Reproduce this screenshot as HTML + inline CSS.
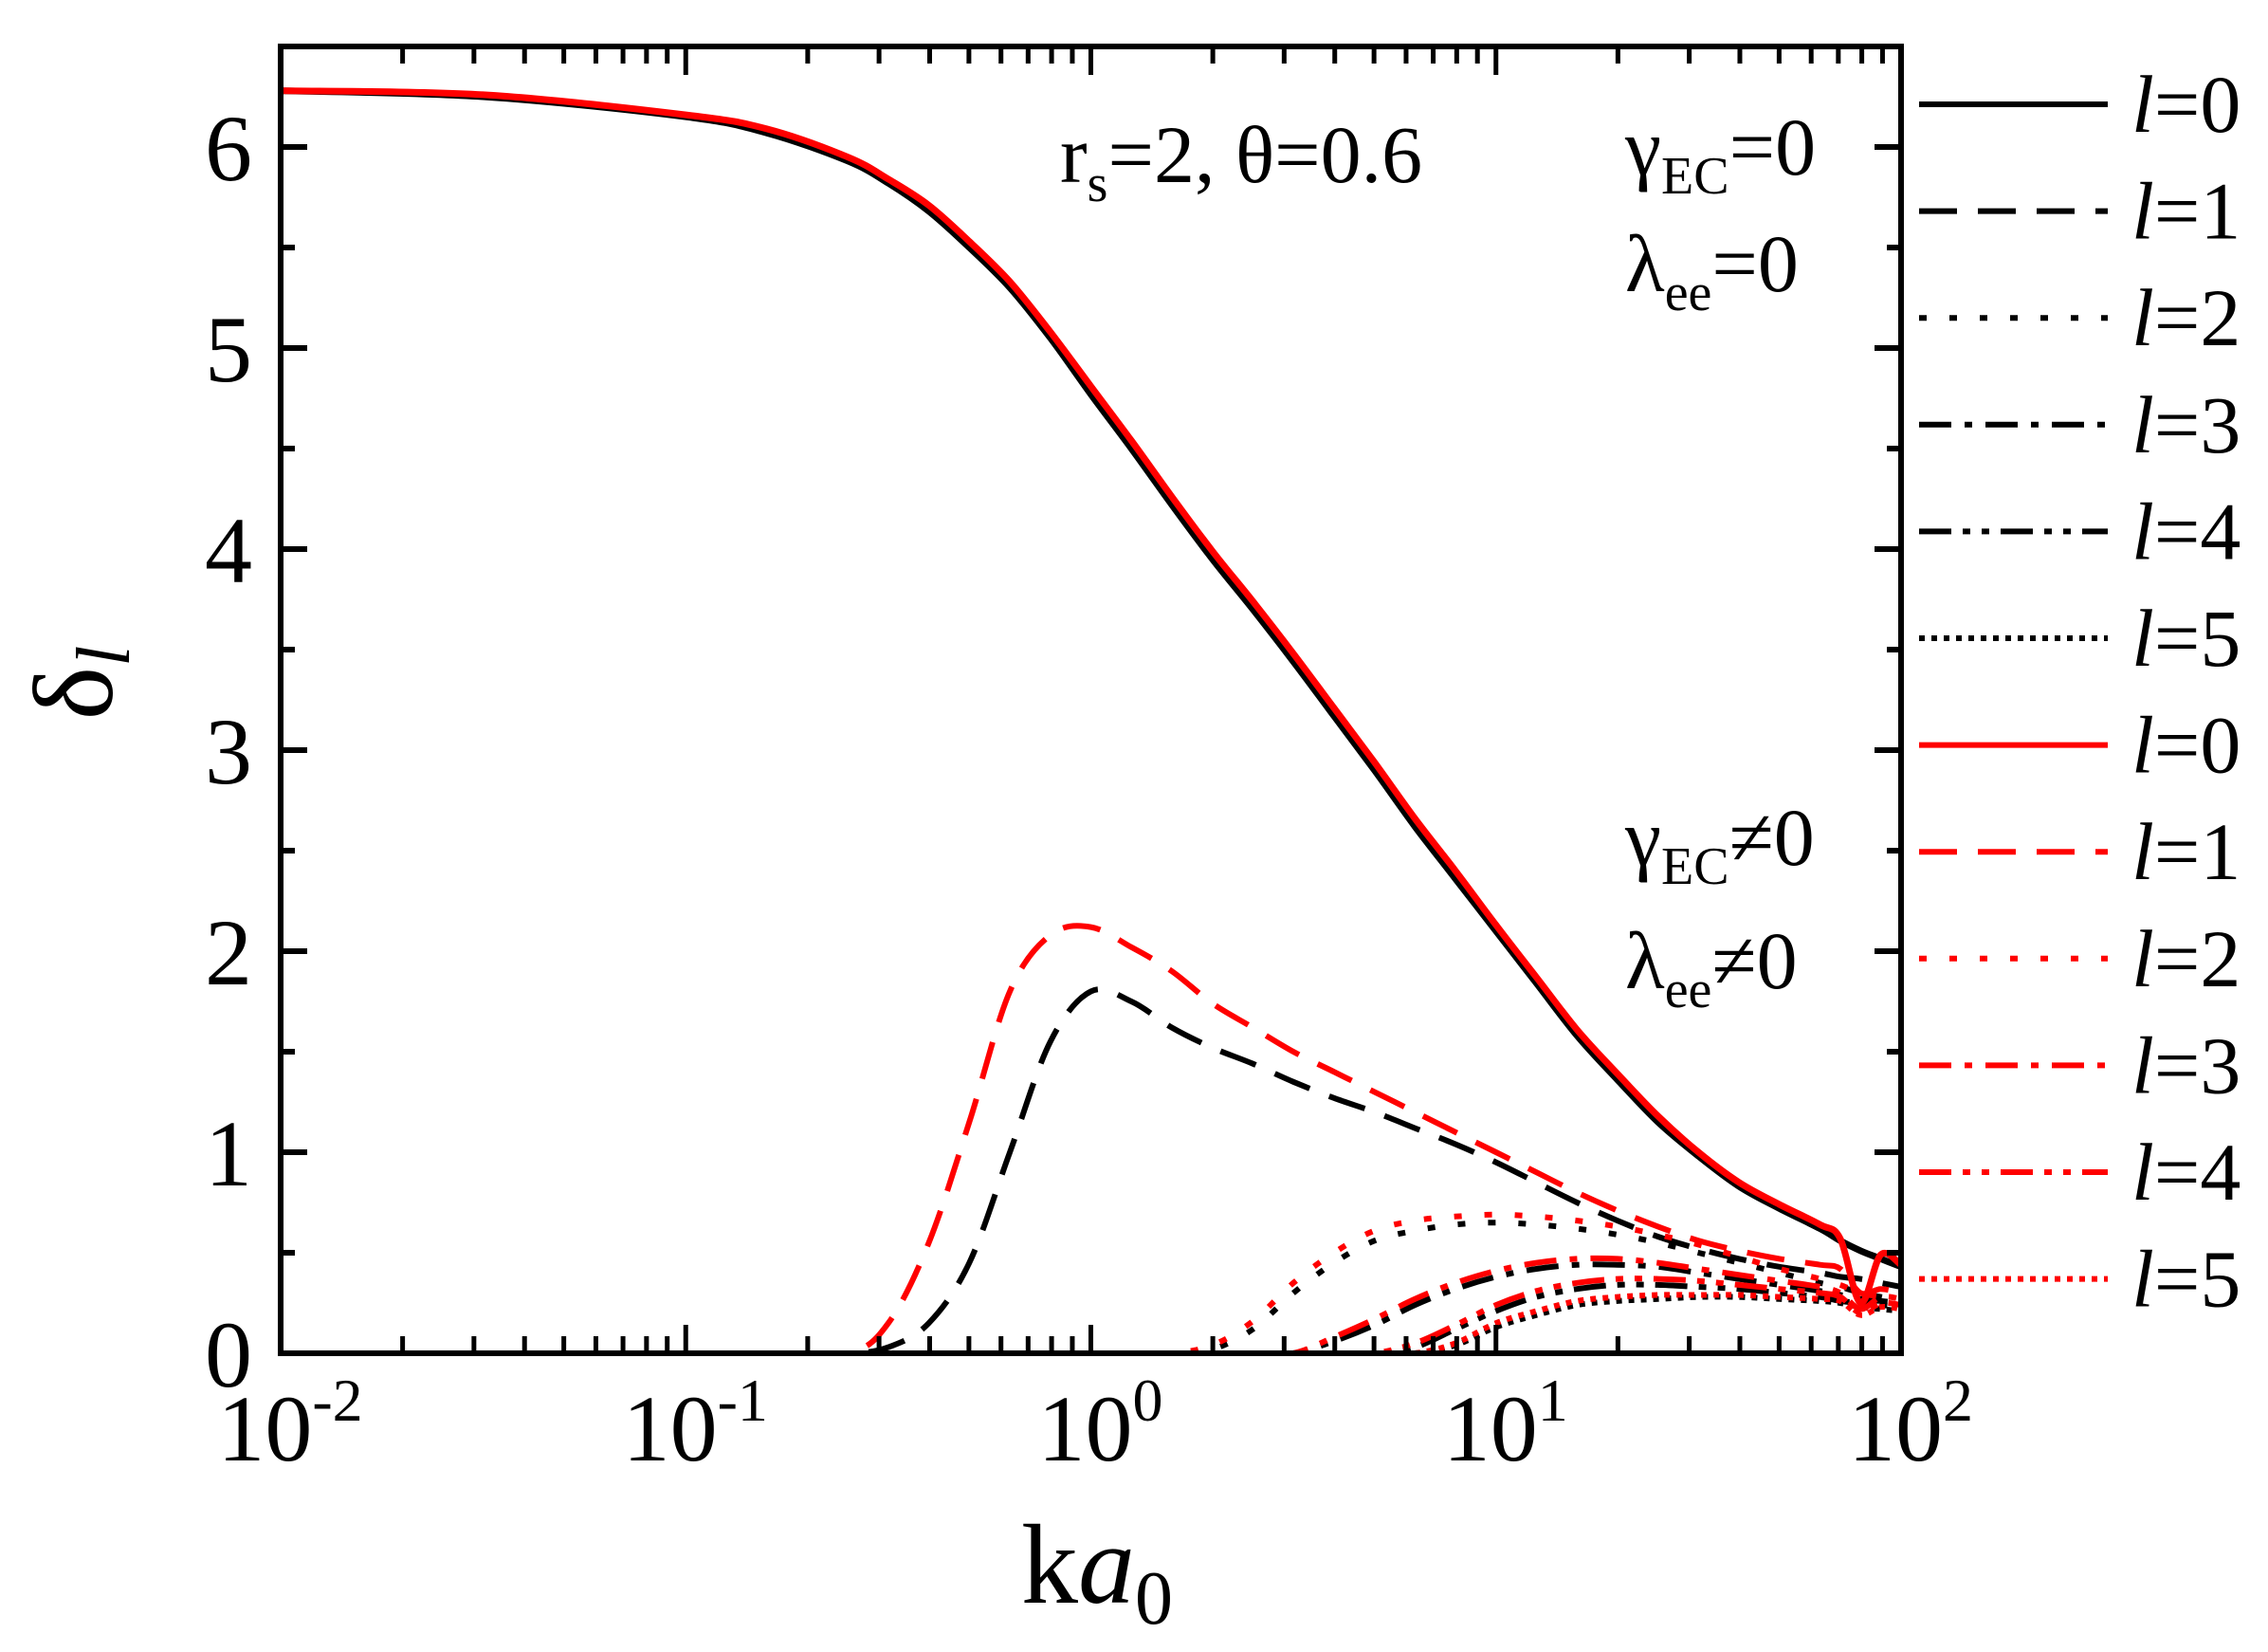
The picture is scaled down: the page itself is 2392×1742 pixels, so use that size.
<!DOCTYPE html>
<html><head><meta charset="utf-8"><style>
html,body{margin:0;padding:0;background:#fff}
svg{display:block}
text{font-family:"Liberation Serif",serif;fill:#000}
</style></head><body>
<svg id="chart" width="2392" height="1742" viewBox="0 0 2392 1742" xmlns="http://www.w3.org/2000/svg">
<g id="marks"></g>
<g id="axes"></g>
<g id="legend"></g>
<text x="1118" y="192" font-size="86">r<tspan font-size="56" dy="20">s</tspan><tspan dy="-20">=2, θ=0.6</tspan></text>
<text x="1714" y="184" font-size="86">γ<tspan font-size="56" dy="20">EC</tspan><tspan dy="-20">=0</tspan></text>
<text x="1714" y="307" font-size="86">λ<tspan font-size="56" dy="20">ee</tspan><tspan dy="-20">=0</tspan></text>
<text x="1714" y="912" font-size="86">γ<tspan font-size="56" dy="20">EC</tspan><tspan dy="-20">≠0</tspan></text>
<text x="1714" y="1042" font-size="86">λ<tspan font-size="56" dy="20">ee</tspan><tspan dy="-20">≠0</tspan></text>
<text transform="translate(118,720) rotate(-90)" text-anchor="middle" font-size="120">δ<tspan font-style="italic" font-size="80" dy="18">l</tspan></text>
<text x="1157" y="1690" text-anchor="middle" font-size="120">k<tspan font-style="italic">a</tspan><tspan font-size="80" dy="22">0</tspan></text>
</svg>
<script>
// log10(k a0) sample positions and values
const xs = [-2,-1.5,-1,-0.8,-0.6,-0.5,-0.4,-0.3,-0.2,-0.1,0,0.1,0.2,0.3,0.4,0.5,0.6,0.7,0.8,0.9,1,1.1,1.2,1.3,1.4,1.5,1.6,1.7,1.8,1.85,1.9,1.95,2];
const l0Black = [6.28,6.25,6.15,6.07,5.93,5.82,5.68,5.5,5.3,5.05,4.77,4.5,4.22,3.95,3.7,3.44,3.17,2.9,2.62,2.36,2.1,1.84,1.58,1.36,1.15,0.98,0.83,0.72,0.62,0.56,0.51,0.47,0.43];
const l0Red   = [6.28,6.26,6.16,6.09,5.95,5.84,5.71,5.53,5.33,5.08,4.81,4.54,4.26,3.99,3.74,3.48,3.21,2.94,2.66,2.4,2.13,1.87,1.61,1.39,1.18,1.0,0.85,0.74,0.64,0.57,0.25,0.49,0.44];
const l1Black = [0,0,0,0,0,0.03,0.15,0.45,1.0,1.55,1.8,1.75,1.62,1.52,1.44,1.35,1.27,1.2,1.12,1.04,0.95,0.85,0.75,0.66,0.58,0.52,0.47,0.43,0.4,0.38,0.37,0.35,0.33];
const l1Red   = [0,0,0,0,0,0.15,0.55,1.15,1.8,2.08,2.12,2.02,1.9,1.74,1.62,1.5,1.4,1.3,1.2,1.1,1.0,0.9,0.8,0.71,0.63,0.56,0.51,0.47,0.44,0.42,0.3,0.32,0.3];
const l2Black = [0,0,0,0,0,0,0,0,0,0,0,0,0,0.02,0.12,0.3,0.45,0.56,0.61,0.64,0.65,0.64,0.62,0.59,0.55,0.5,0.45,0.4,0.35,0.33,0.3,0.28,0.26];
const l2Red   = [0,0,0,0,0,0,0,0,0,0,0,0,0,0.04,0.16,0.35,0.5,0.61,0.66,0.68,0.69,0.68,0.66,0.63,0.59,0.54,0.48,0.42,0.37,0.34,0.3,0.28,0.26];
const l3Black = [0,0,0,0,0,0,0,0,0,0,0,0,0,0,0,0,0.06,0.14,0.24,0.32,0.38,0.42,0.44,0.44,0.43,0.4,0.37,0.34,0.31,0.29,0.27,0.26,0.25];
const l3Red   = [0,0,0,0,0,0,0,0,0,0,0,0,0,0,0,0,0.08,0.17,0.27,0.35,0.41,0.45,0.47,0.47,0.45,0.42,0.39,0.36,0.33,0.3,0.22,0.28,0.27];
const l4Black = [0,0,0,0,0,0,0,0,0,0,0,0,0,0,0,0,0,0,0.03,0.12,0.21,0.28,0.32,0.34,0.34,0.33,0.32,0.3,0.28,0.26,0.25,0.24,0.23];
const l4Red   = [0,0,0,0,0,0,0,0,0,0,0,0,0,0,0,0,0,0,0.05,0.14,0.24,0.31,0.35,0.37,0.37,0.36,0.34,0.32,0.3,0.28,0.2,0.25,0.24];
const l5Black = [0,0,0,0,0,0,0,0,0,0,0,0,0,0,0,0,0,0,0,0.04,0.13,0.19,0.24,0.26,0.27,0.28,0.28,0.27,0.26,0.25,0.23,0.22,0.21];
const l5Red   = [0,0,0,0,0,0,0,0,0,0,0,0,0,0,0,0,0,0,0,0.05,0.15,0.21,0.26,0.28,0.29,0.29,0.29,0.28,0.27,0.26,0.19,0.23,0.22];
const yTicks = [0,1,2,3,4,5,6];
const xTickExps = [-2,-1,0,1,2];
const legendLabels = ["0","1","2","3","4","5","0","1","2","3","4","5"];

const L=296,R=2005,T=49,B=1427;
const X = lx => L + (lx+2)/4*(R-L);
const Y = v => B - v*(B-T)/6.5;
const NS="http://www.w3.org/2000/svg";
function mk(tag,attrs,parent){const e=document.createElementNS(NS,tag);for(const k in attrs)e.setAttribute(k,attrs[k]);parent.appendChild(e);return e;}
function smoothPath(P){
  let d="M"+P[0][0].toFixed(1)+","+P[0][1].toFixed(1);
  for(let i=0;i<P.length-1;i++){
    const p0=P[Math.max(0,i-1)],p1=P[i],p2=P[i+1],p3=P[Math.min(P.length-1,i+2)];
    const c1=[p1[0]+(p2[0]-p0[0])/6,Math.min(B,p1[1]+(p2[1]-p0[1])/6)];
    const c2=[p2[0]-(p3[0]-p1[0])/6,Math.min(B,p2[1]-(p3[1]-p1[1])/6)];
    d+=" C"+c1.map(v=>v.toFixed(1)).join(",")+" "+c2.map(v=>v.toFixed(1)).join(",")+" "+p2[0].toFixed(1)+","+p2[1].toFixed(1);
  }
  return d;
}
const marks=document.getElementById('marks'), axes=document.getElementById('axes'), legend=document.getElementById('legend');
const dashes=["none","40 22","8 24","34 14 8 14","34 12 8 12 8 12","6 7"];
const series=[
 {d:l5Black,c:"#000",s:5,n:"l5-black"},{d:l4Black,c:"#000",s:4,n:"l4-black"},{d:l3Black,c:"#000",s:3,n:"l3-black"},{d:l2Black,c:"#000",s:2,n:"l2-black"},{d:l1Black,c:"#000",s:1,n:"l1-black"},{d:l0Black,c:"#000",s:0,n:"l0-black"},
 {d:l5Red,c:"#f00",s:5,n:"l5-red"},{d:l4Red,c:"#f00",s:4,n:"l4-red"},{d:l3Red,c:"#f00",s:3,n:"l3-red"},{d:l2Red,c:"#f00",s:2,n:"l2-red"},{d:l1Red,c:"#f00",s:1,n:"l1-red"},{d:l0Red,c:"#f00",s:0,n:"l0-red"}];
series.forEach(sr=>{
  const P=xs.map((x,i)=>[X(x),Y(sr.d[i])]);
  const p=mk('path',{d:smoothPath(P),fill:"none",stroke:sr.c,"stroke-width":sr.s===0?7:6,"stroke-dasharray":dashes[sr.s],"stroke-linejoin":"round"},marks);
  
  
});
const fr=mk('rect',{x:L,y:T,width:R-L,height:B-T,fill:"none",stroke:"#000","stroke-width":6},axes);


for(let v=0;v<=6.5;v+=0.5){
  const maj=Number.isInteger(v), len=maj?28:15, y=Y(v);
  mk('line',{x1:L,x2:L+len,y1:y,y2:y,stroke:"#000","stroke-width":6},axes);
  mk('line',{x1:R,x2:R-len,y1:y,y2:y,stroke:"#000","stroke-width":6},axes);
}
yTicks.forEach(v=>{
  const t=mk('text',{x:266,y:Y(v)+35,"text-anchor":"end","font-size":100},axes);
  t.textContent=v;
  
  
});
for(let e=-2;e<2;e++){for(let m=1;m<10;m++){const x=X(e+Math.log10(m)),len=m===1?30:18;
  mk('line',{x1:x,x2:x,y1:B,y2:B-len,stroke:"#000","stroke-width":5},axes);
  mk('line',{x1:x,x2:x,y1:T,y2:T+len,stroke:"#000","stroke-width":5},axes);}}
xTickExps.forEach(e=>{
  const t=mk('text',{x:X(e)+10,y:1540,"text-anchor":"middle","font-size":100},axes);
  t.innerHTML='10<tspan font-size="64" dy="-42">'+e+'</tspan>';
  
  
});
legendLabels.forEach((lab,i)=>{
  const y=110+i*112.6, red=i>=6, s=i%6;
  const g=mk('g',{},legend);
  
  
  mk('line',{x1:2024,x2:2223,y1:y,y2:y,stroke:red?"#f00":"#000","stroke-width":6,"stroke-dasharray":dashes[s]},g);
  const t=mk('text',{x:2248,y:y+29,"font-size":86},g);
  t.innerHTML='<tspan font-style="italic">l</tspan>='+lab;
});
</script>
</body></html>
